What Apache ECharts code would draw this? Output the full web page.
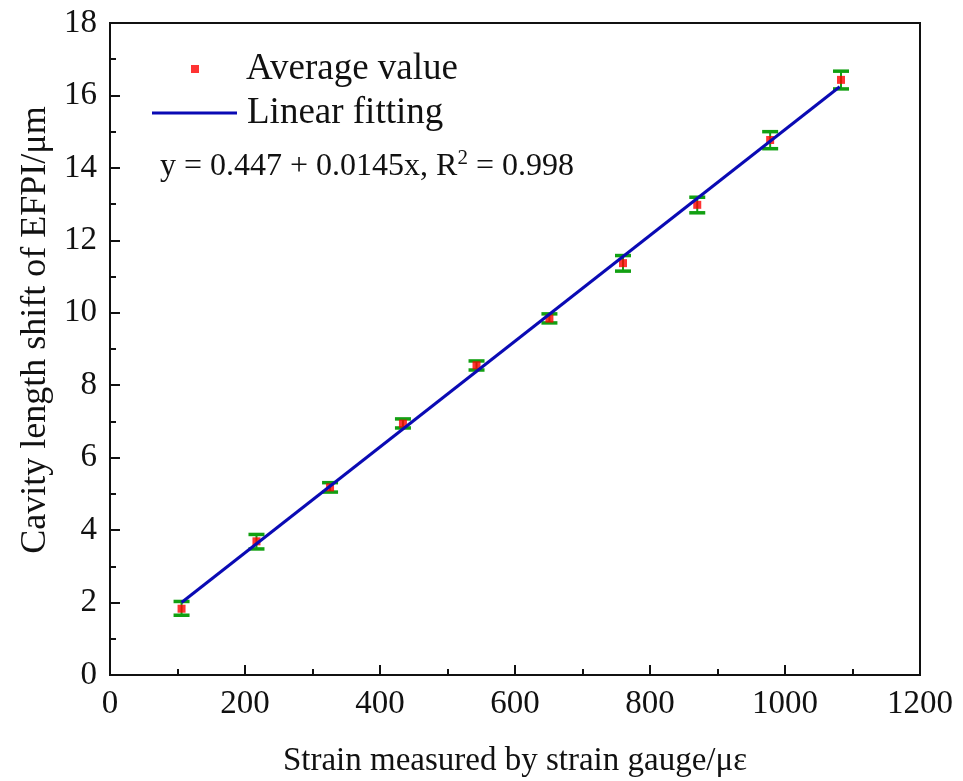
<!DOCTYPE html>
<html>
<head>
<meta charset="utf-8">
<script src="https://cdn.jsdelivr.net/npm/echarts@6/dist/echarts.min.js"></script>
<style>html,body{margin:0;padding:0;background:#fff}#c{width:963px;height:781px}</style>
</head>
<body>
<div id="c"></div>
<script>
// Data
var strain = [106, 217, 326, 434, 543, 651, 760, 870, 978, 1083];
var shiftAvg = [1.83, 3.69, 5.18, 6.94, 8.55, 9.84, 11.37, 12.98, 14.77, 16.43];
var errLow = [1.65, 3.48, 5.05, 6.82, 8.42, 9.72, 11.15, 12.76, 14.53, 16.18];
var errHigh = [2.03, 3.88, 5.31, 7.07, 8.67, 9.97, 11.58, 13.19, 15.0, 16.67];
var fitX = [106, 1081];
var fitY = [2.0, 16.24];
var xTicks = [0, 200, 400, 600, 800, 1000, 1200];
var yTicks = [0, 2, 4, 6, 8, 10, 12, 14, 16, 18];

var FONT = 'Liberation Serif, Times New Roman, serif';
var scatterData = strain.map(function (x, i) { return [x, shiftAvg[i]]; });
var errData = strain.map(function (x, i) { return [x, errLow[i], errHigh[i]]; });
var fitData = fitX.map(function (x, i) { return [x, fitY[i]]; });

var chart = echarts.init(document.getElementById('c'), null, {renderer: 'canvas'});
chart.setOption({
  backgroundColor: '#fff',
  animation: false,
  grid: {left: 110, right: 43, top: 23, bottom: 106, containLabel: false, outerBoundsMode: 'none',
         show: true, borderColor: '#111', borderWidth: 2, backgroundColor: 'transparent'},
  xAxis: {
    type: 'value', min: xTicks[0], max: xTicks[xTicks.length - 1], interval: 200,
    name: 'Strain measured by strain gauge/\u03bc\u03b5', nameLocation: 'middle', nameGap: 70,
    nameTextStyle: {fontFamily: FONT, fontSize: 33, color: '#111'},
    axisLine: {show: true, lineStyle: {color: '#111', width: 2}},
    axisTick: {show: true, inside: true, length: 10, lineStyle: {color: '#111', width: 2}},
    minorTick: {show: true, splitNumber: 2, length: 6, lineStyle: {color: '#111', width: 2}},
    axisLabel: {fontFamily: FONT, fontSize: 33, color: '#111', margin: 13, formatter: function (v) { return String(v); }},
    splitLine: {show: false}
  },
  yAxis: {
    type: 'value', min: yTicks[0], max: yTicks[yTicks.length - 1], interval: 2,
    name: 'Cavity length shift of EFPI/\u03bcm', nameLocation: 'middle', nameGap: 56,
    nameTextStyle: {fontFamily: FONT, fontSize: 36, color: '#111', padding: [0, 0, 0, 38]},
    axisLine: {show: true, lineStyle: {color: '#111', width: 2}},
    axisTick: {show: true, inside: true, length: 10, lineStyle: {color: '#111', width: 2}},
    minorTick: {show: true, splitNumber: 2, length: 6, lineStyle: {color: '#111', width: 2}},
    axisLabel: {fontFamily: FONT, fontSize: 33, color: '#111', margin: 13},
    splitLine: {show: false}
  },
  legend: [
    {data: ['Average value'], left: 191, top: 50, padding: 0, itemWidth: 8, itemHeight: 8,
     textStyle: {fontFamily: FONT, fontSize: 37, color: '#111', padding: [0, 0, 0, 42], lineHeight: 38}},
    {data: [{name: 'Linear fitting', icon: 'rect'}], left: 152, top: 94, padding: 0, itemWidth: 85, itemHeight: 3,
     textStyle: {fontFamily: FONT, fontSize: 37, color: '#111', padding: [0, 0, 0, 5], lineHeight: 38}}
  ],
  graphic: [{
    type: 'text', left: 160, top: 148, z: 100,
    style: {
      text: 'y = 0.447 + 0.0145x, R{sup|2} = 0.998',
      font: '32px ' + FONT, fill: '#111',
      rich: {sup: {fontSize: 21, fontFamily: FONT, fill: '#111', padding: [0, 0, 16, 0]}}
    }
  }],
  series: [
    {
      name: 'Error', type: 'custom', z: 2,
      data: errData,
      renderItem: function (params, api) {
        var x = api.value(0);
        var lo = api.coord([x, api.value(1)]);
        var hi = api.coord([x, api.value(2)]);
        var hw = 8;
        var st = {stroke: '#12a012', lineWidth: 2};
        var cap = {stroke: '#12a012', lineWidth: 3.5};
        return {type: 'group', children: [
          {type: 'line', shape: {x1: lo[0], y1: lo[1], x2: hi[0], y2: hi[1]}, style: st},
          {type: 'line', shape: {x1: lo[0] - hw, y1: lo[1], x2: lo[0] + hw, y2: lo[1]}, style: cap},
          {type: 'line', shape: {x1: hi[0] - hw, y1: hi[1], x2: hi[0] + hw, y2: hi[1]}, style: cap}
        ]};
      }
    },
    {
      name: 'Average value', type: 'scatter', z: 3,
      symbol: 'rect', symbolSize: 8,
      itemStyle: {color: '#ff0000'},
      data: scatterData
    },
    {
      name: 'Linear fitting', type: 'line', z: 4,
      symbol: 'none', showSymbol: false,
      lineStyle: {color: '#0a0ab4', width: 3},
      itemStyle: {color: '#0a0ab4'},
      data: fitData
    }
  ]
});
</script>
</body>
</html>
